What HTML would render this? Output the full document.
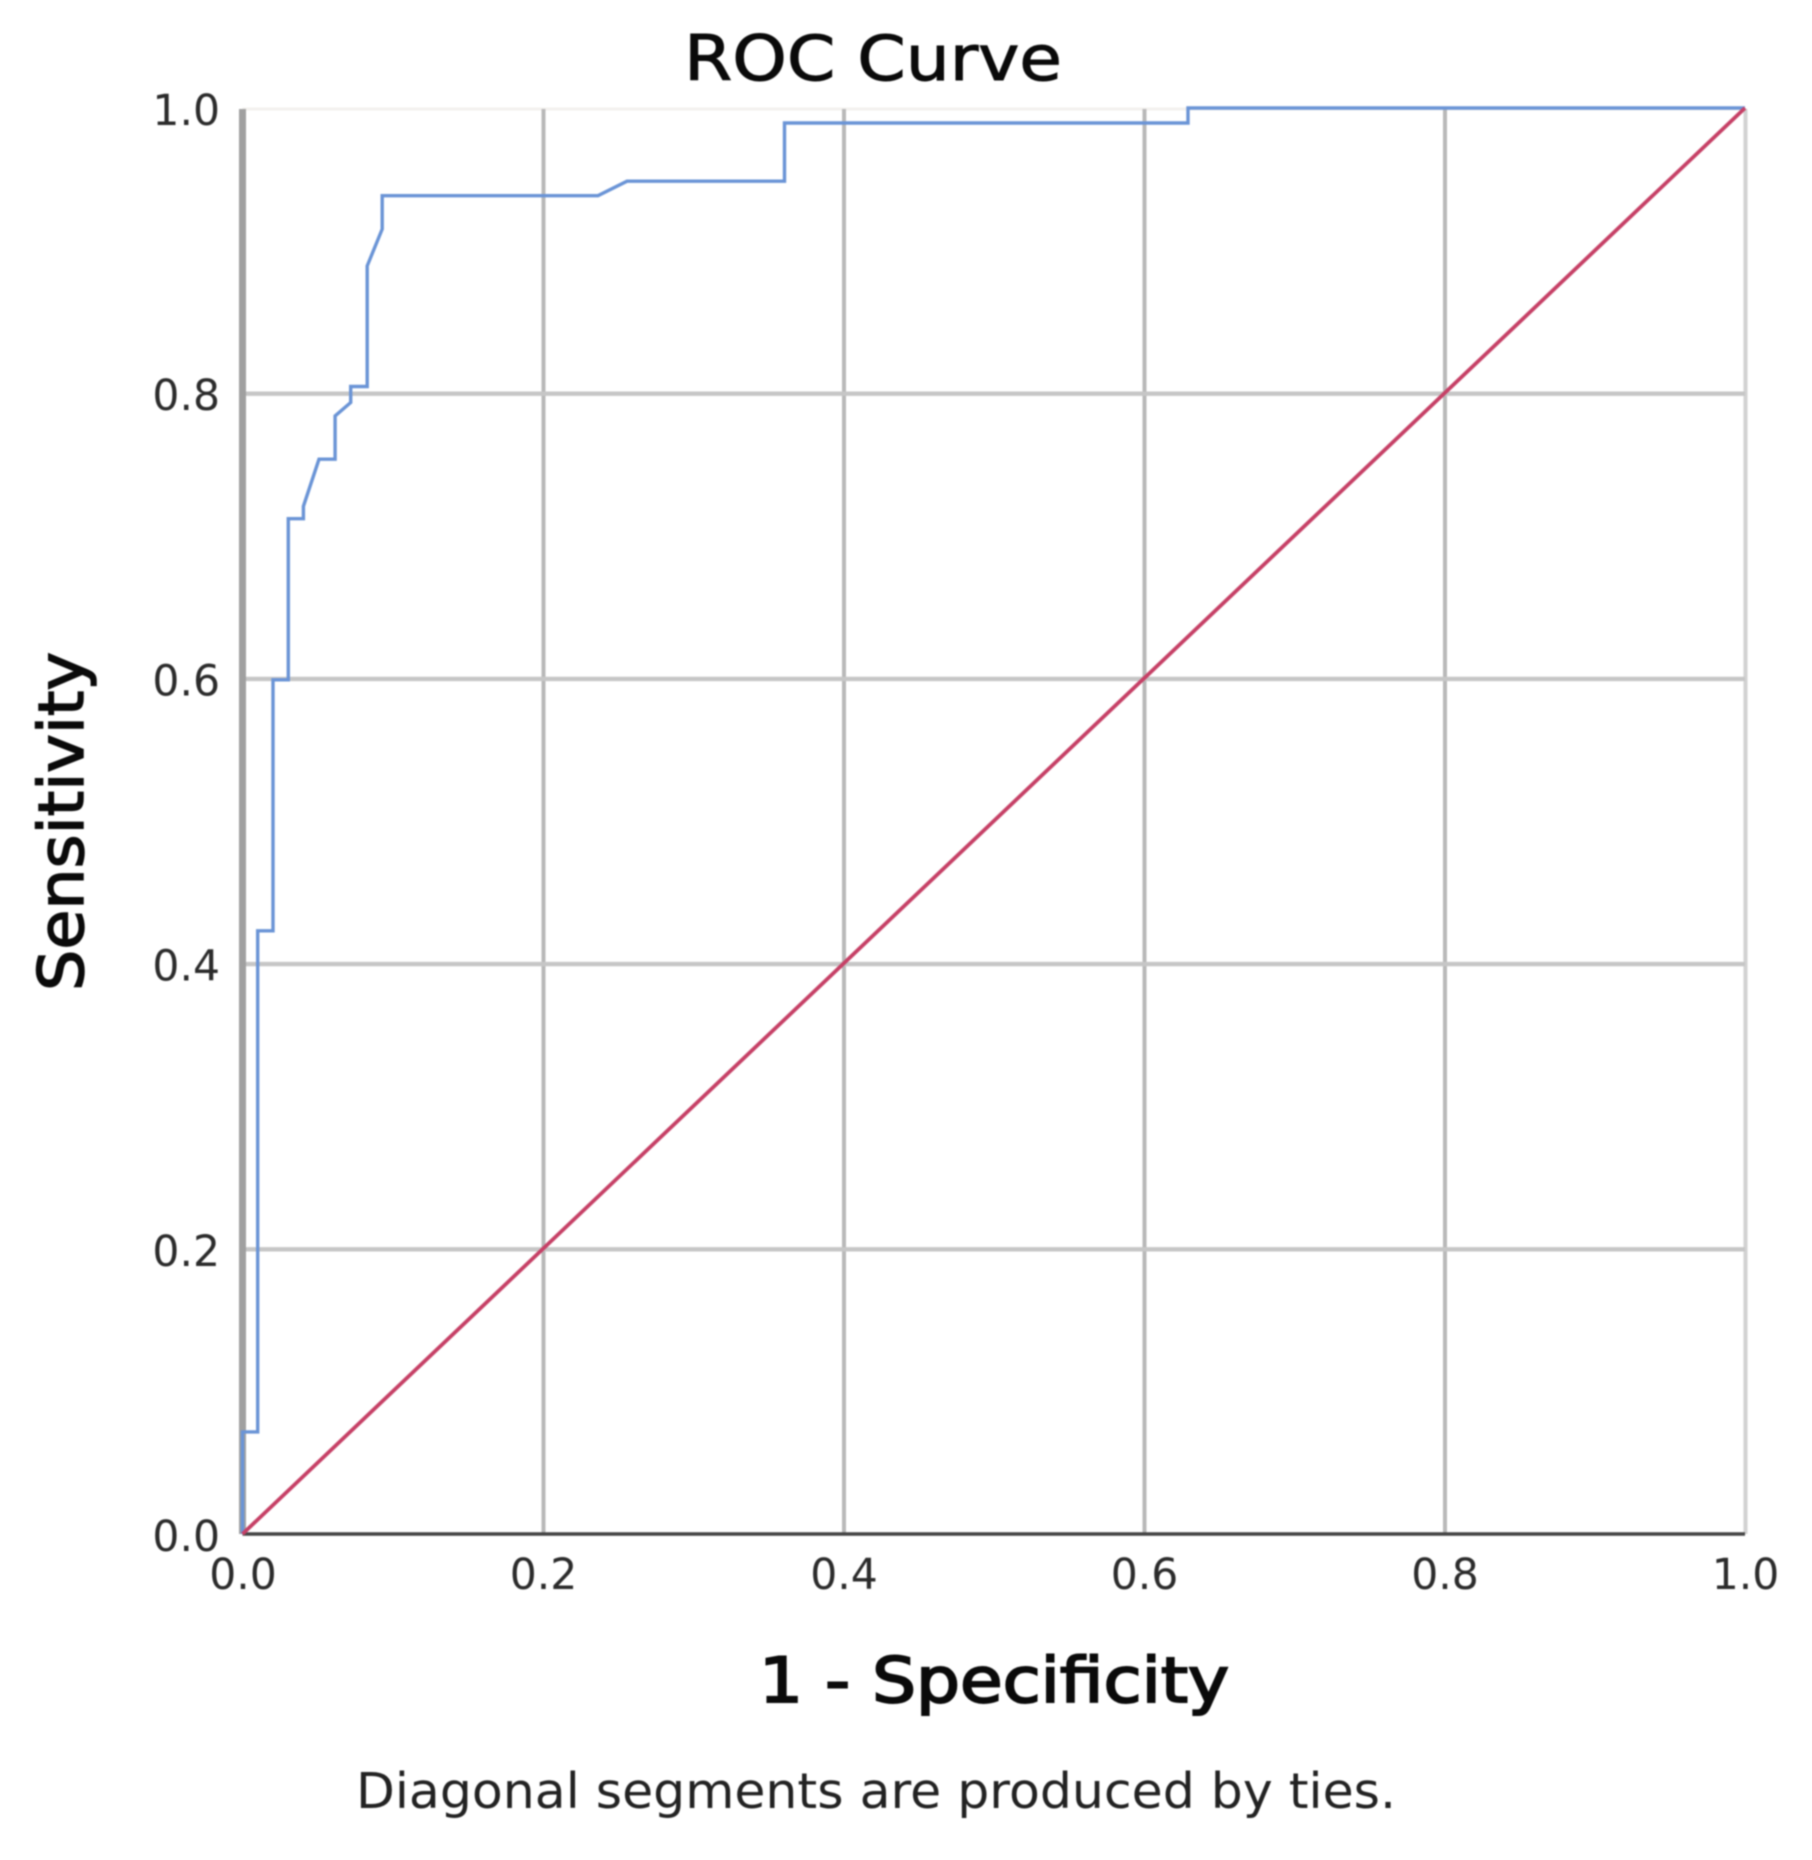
<!DOCTYPE html>
<html lang="en">
<head>
<meta charset="utf-8">
<title>ROC Curve</title>
<style>
  html, body { margin: 0; padding: 0; background: #fff; width: 1812px; height: 1860px; overflow: hidden; }
  svg { display: block; filter: blur(0.9px); }
  text { font-family: "DejaVu Sans", "Liberation Sans", sans-serif; }
</style>
</head>
<body>
<svg id="chart" xmlns="http://www.w3.org/2000/svg" width="1812" height="1860" viewBox="0 0 1812 1860">
  <rect x="0" y="0" width="1812" height="1860" fill="#ffffff"></rect>
  <g id="grid"></g>
  <g id="axes"></g>
  <g id="series"></g>
  <g id="ticks"></g>
  <text x="684" y="80" font-size="62" textLength="378" lengthAdjust="spacingAndGlyphs" fill="#0a0a0a" stroke="#0a0a0a" stroke-width="1">ROC Curve</text>
  <text x="759" y="1702" font-size="62" textLength="470" lengthAdjust="spacingAndGlyphs" fill="#0a0a0a" stroke="#0a0a0a" stroke-width="2">1 - Specificity</text>
  <text transform="translate(83 991) rotate(-90)" x="0" y="0" font-size="62" textLength="339" lengthAdjust="spacingAndGlyphs" fill="#0a0a0a" stroke="#0a0a0a" stroke-width="1.5">Sensitivity</text>
  <text x="356" y="1808" font-size="49" textLength="1040" lengthAdjust="spacingAndGlyphs" fill="#222222">Diagonal segments are produced by ties.</text>
</svg>
<script>
const xTickLabels = ["0.0", "0.2", "0.4", "0.6", "0.8", "1.0"];
const yTickLabels = ["0.0", "0.2", "0.4", "0.6", "0.8", "1.0"];
const rocFpr = [0, 0, 0.0101, 0.0101, 0.0203, 0.0203, 0.0305, 0.0305, 0.0405, 0.0405, 0.0509, 0.0616, 0.0616, 0.072, 0.072, 0.083, 0.083, 0.093, 0.093, 0.2366, 0.2559, 0.3607, 0.3607, 0.6293, 0.6293, 1];
const rocTpr = [0, 0.0716, 0.0716, 0.423, 0.423, 0.599, 0.599, 0.712, 0.712, 0.7207, 0.7537, 0.7537, 0.7841, 0.7935, 0.8047, 0.8047, 0.8893, 0.9151, 0.9385, 0.9385, 0.9487, 0.9487, 0.9895, 0.9895, 1, 1];
const refFpr = [0, 1];
const refTpr = [0, 1];

const SVG_NS = "http://www.w3.org/2000/svg";
const plotLeft = 242.5, plotRight = 1745, plotTop = 108, plotBottom = 1534;
function xScale(v) { return plotLeft + v * (plotRight - plotLeft); }
function yScale(v) { return plotBottom - v * (plotBottom - plotTop); }
function pointsFrom(xs, ys) {
  return xs.map(function (v, i) { return xScale(v).toFixed(1) + "," + yScale(ys[i]).toFixed(1); }).join(" ");
}
function make(tag, parent, attrs) {
  const el = document.createElementNS(SVG_NS, tag);
  Object.keys(attrs).forEach(function (k) { el.setAttribute(k, attrs[k]); });
  parent.appendChild(el);
  return el;
}

const gridGroup = document.getElementById("grid");
const axesGroup = document.getElementById("axes");
const seriesGroup = document.getElementById("series");
const ticksGroup = document.getElementById("ticks");

const topBand = make("line", gridGroup, { x1: plotLeft, x2: plotRight, y1: 109, y2: 109, stroke: "#f3f1ee", "stroke-width": 3 });



xTickLabels.forEach(function (label) {
  const v = Number(label);
  if (v > 0) {
    const gl = make("line", gridGroup, { x1: xScale(v) + 0.5, x2: xScale(v) + 0.5, y1: 109, y2: plotBottom, stroke: v === 1 ? "#d2d2d2" : "#b8b8b8", "stroke-width": 4 });
    
    
  }
  const t = make("text", ticksGroup, { x: xScale(v) + 0.5, y: 1589, "font-size": 42.5, "text-anchor": "middle", fill: "#2b2b2b" });
  
  
  t.textContent = label;
});

yTickLabels.forEach(function (label) {
  const v = Number(label);
  if (v > 0 && v < 1) {
    const gl = make("line", gridGroup, { x1: plotLeft, x2: plotRight, y1: yScale(v) + 0.5, y2: yScale(v) + 0.5, stroke: "#c6c6c6", "stroke-width": 4.4 });
    
    
  }
  const t = make("text", ticksGroup, { x: 220, y: yScale(v) + 17, "font-size": 42.5, "text-anchor": "end", fill: "#2b2b2b" });
  
  
  t.textContent = label;
});

const yAxis = make("line", axesGroup, { x1: plotLeft, x2: plotLeft, y1: 109, y2: plotBottom, stroke: "#a0a0a0", "stroke-width": 7 });



const xAxis = make("line", axesGroup, { x1: plotLeft, x2: plotRight, y1: plotBottom, y2: plotBottom, stroke: "#444444", "stroke-width": 3.4 });



const rocLine = make("polyline", seriesGroup, { points: pointsFrom(rocFpr, rocTpr), fill: "none", stroke: "#6a94d6", "stroke-width": 3.4, "stroke-linejoin": "miter" });



const refLine = make("polyline", seriesGroup, { points: pointsFrom(refFpr, refTpr), fill: "none", stroke: "#c64066", "stroke-width": 3.8 });


</script>
</body>
</html>
